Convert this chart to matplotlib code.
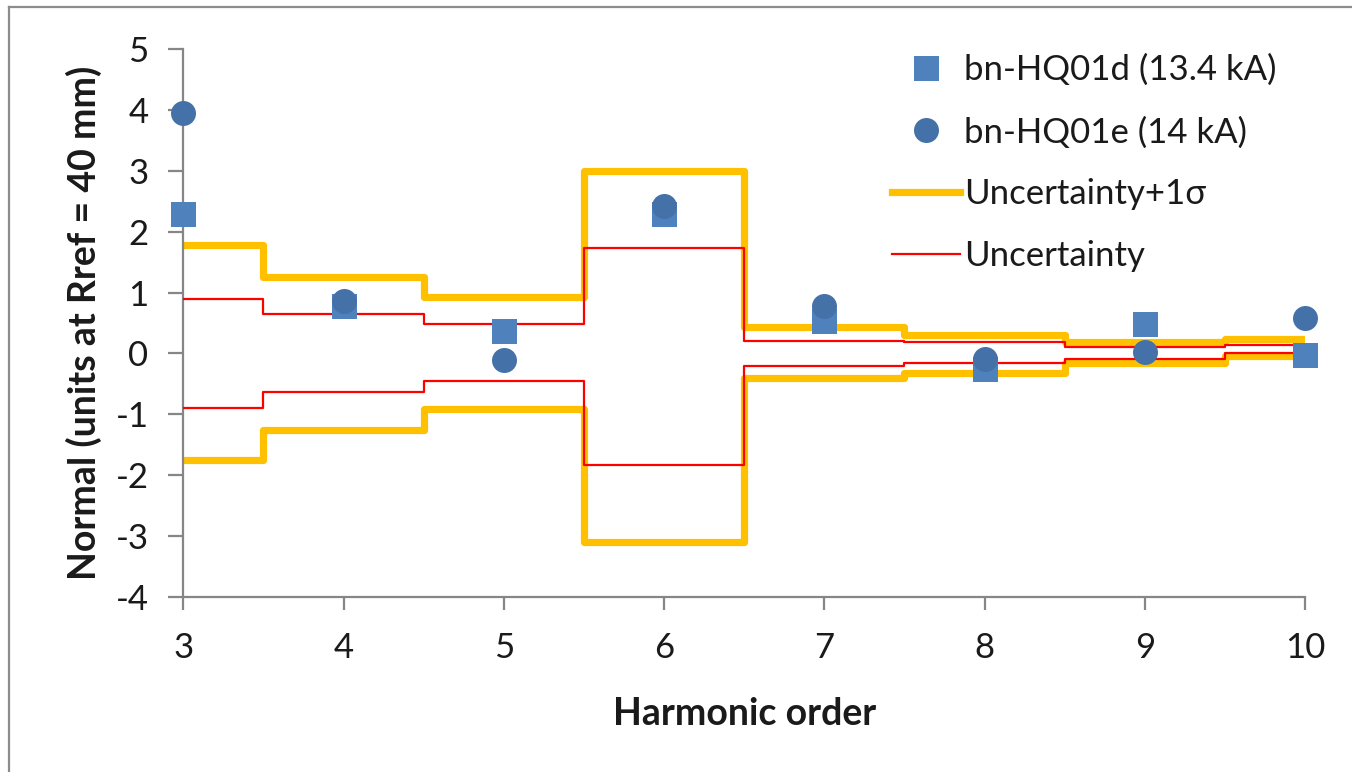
import matplotlib.pyplot as plt
from matplotlib.lines import Line2D

plt.rcParams['font.family'] = ['Lato', 'DejaVu Sans']
plt.rcParams['axes.unicode_minus'] = False

harmonics = [3, 4, 5, 6, 7, 8, 9, 10]

# measured b_n at two currents
bn_hq01d = [2.30, 0.78, 0.37, 2.30, 0.54, -0.26, 0.49, -0.02]
bn_hq01e = [3.95, 0.86, -0.11, 2.42, 0.78, -0.09, 0.02, 0.58]

# uncertainty bands (upper / lower)
unc_sigma_upper = [1.78, 1.26, 0.93, 3.00, 0.43, 0.30, 0.18, 0.24]
unc_sigma_lower = [-1.76, -1.26, -0.92, -3.10, -0.41, -0.32, -0.15, -0.05]
unc_upper = [0.89, 0.65, 0.48, 1.73, 0.21, 0.18, 0.10, 0.14]
unc_lower = [-0.89, -0.63, -0.46, -1.84, -0.20, -0.16, -0.10, 0.00]

labels = ['bn-HQ01d (13.4 kA)', 'bn-HQ01e (14 kA)', 'Uncertainty+1\u03c3', 'Uncertainty']

W, H = 1352, 772
fig = plt.figure(figsize=(W / 100, H / 100), dpi=100)
ax = fig.add_axes([183.3 / W, 1 - 596.7 / H, (1305 - 183.3) / W, (596.7 - 49.3) / H])

# step edges halfway between harmonics
edges = [harmonics[0]] + [h + 0.5 for h in harmonics[:-1]] + [harmonics[-1]]


def stepped(vals):
    return vals + [vals[-1]]


orange = '#FFC000'
red = '#FF0000'
l1, = ax.step(edges, stepped(unc_sigma_upper), where='post', color=orange, lw=5.2, zorder=2)
ax.step(edges, stepped(unc_sigma_lower), where='post', color=orange, lw=5.2, zorder=2)
l2, = ax.step(edges, stepped(unc_upper), where='post', color=red, lw=1.6, zorder=3)
ax.step(edges, stepped(unc_lower), where='post', color=red, lw=1.6, zorder=3)

s1, = ax.plot(harmonics, bn_hq01d, 's', color='#4F81BD', ms=18, mew=0, zorder=4, clip_on=False)
s2, = ax.plot(harmonics, bn_hq01e, 'o', color='#4472A8', ms=18, mew=0, zorder=5, clip_on=False)

ax.set_xlim(3, 10)
ax.set_ylim(-4, 5)
ax.set_xticks(harmonics)
ax.set_yticks(range(-4, 6))

for side in ['top', 'right']:
    ax.spines[side].set_visible(False)
for side in ['left', 'bottom']:
    ax.spines[side].set_color('#868686')
    ax.spines[side].set_linewidth(1.6)

txt = '#1a1a1a'
ax.tick_params(axis='y', direction='out', length=11, width=1.6, color='#868686',
               labelsize=25, pad=14, labelcolor=txt)
ax.tick_params(axis='x', direction='out', length=9.5, width=1.6, color='#868686',
               labelsize=25, pad=16, labelcolor=txt)

ax.set_xlabel('Harmonic order', fontsize=27, fontweight='bold', labelpad=24, color=txt)
ax.set_ylabel('Normal (units at Rref = 40 mm)', fontsize=27, fontweight='bold', labelpad=10, color=txt)

leg = ax.legend([s1, s2, l1, l2], labels, loc='upper left',
                bbox_to_anchor=(892 / W, 1 - 54 / H), bbox_transform=fig.transFigure,
                frameon=False, fontsize=25, handlelength=1.95, handletextpad=0.12,
                labelspacing=0.86, borderpad=0, borderaxespad=0, numpoints=1)
for t in leg.get_texts():
    t.set_color(txt)

# outer chart frame
fig.add_artist(Line2D([9 / W, 9 / W], [0, 1 - 7 / H], transform=fig.transFigure,
                      color='#8c8c8c', lw=1.6))
fig.add_artist(Line2D([9 / W, 1], [1 - 7 / H, 1 - 7 / H], transform=fig.transFigure,
                      color='#8c8c8c', lw=1.6))

fig.savefig('out.png', dpi=100)
